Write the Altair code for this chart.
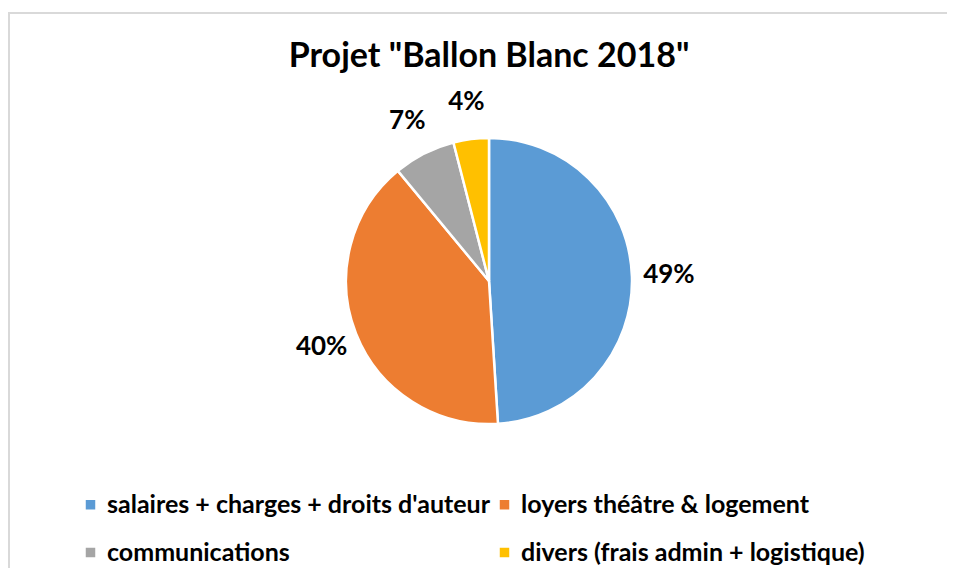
import altair as alt
import pandas as pd

categories = [
    "salaires + charges + droits d'auteur",
    "loyers théâtre & logement",
    "communications",
    "divers (frais admin + logistique)",
]
shares = [49, 40, 7, 4]
labels = ["49%", "40%", "7%", "4%"]
colors = ["#5B9BD5", "#ED7D31", "#A5A5A5", "#FFC000"]
title_text = 'Projet "Ballon Blanc 2018"'

df = pd.DataFrame({
    "cat": categories,
    "share": shares,
    "label": labels,
    "idx": list(range(len(categories))),
})

FONT = "Lato"
CX, CY = 481, 273
W, H = 939, 560

base = alt.Chart(df).encode(
    theta=alt.Theta("share:Q", stack=True),
    order=alt.Order("idx:Q"),
    x=alt.value(CX),
    y=alt.value(CY),
)

pie = base.mark_arc(outerRadius=143, stroke="white", strokeWidth=2.5).encode(
    color=alt.Color(
        "cat:N",
        sort=categories,
        scale=alt.Scale(domain=categories, range=colors),
        legend=alt.Legend(
            title=None,
            orient="none",
            direction="horizontal",
            legendX=70,
            legendY=484,
            columns=2,
            columnPadding=2,
            rowPadding=22,
            padding=0,
            symbolType="square",
            symbolSize=90,
            symbolStrokeWidth=0,
            labelFont=FONT,
            labelFontSize=25,
            labelFontWeight="bold",
            labelColor="#000000",
            labelOffset=4,
            labelLimit=700,
        ),
    )
)

text = base.mark_text(
    radius=180, font=FONT, fontSize=26, fontWeight="bold", color="#000000",
    align="center", baseline="middle",
).encode(text="label:N")

border_top = alt.Chart(df).mark_rule(color="#D9D9D9", strokeWidth=2).encode(
    x=alt.value(0), x2=alt.value(W), y=alt.value(5)
)
border_left = alt.Chart(df).mark_rule(color="#D9D9D9", strokeWidth=2).encode(
    x=alt.value(1), y=alt.value(4), y2=alt.value(H)
)

chart = alt.layer(border_top, border_left, pie, text).properties(
    width=W,
    height=H,
    autosize=alt.AutoSizeParams(type="none"),
    padding=0,
    background="white",
    title=alt.TitleParams(
        title_text,
        anchor="middle",
        frame="group",
        orient="top",
        offset=0,
        baseline="alphabetic",
        dx=CX - W / 2,
        dy=93,
        font=FONT,
        fontSize=34,
        fontWeight="bold",
        color="#000000",
    ),
).configure_view(stroke="transparent", strokeWidth=0)

chart.save("out.html", embed_options={"renderer": "svg", "actions": False})
